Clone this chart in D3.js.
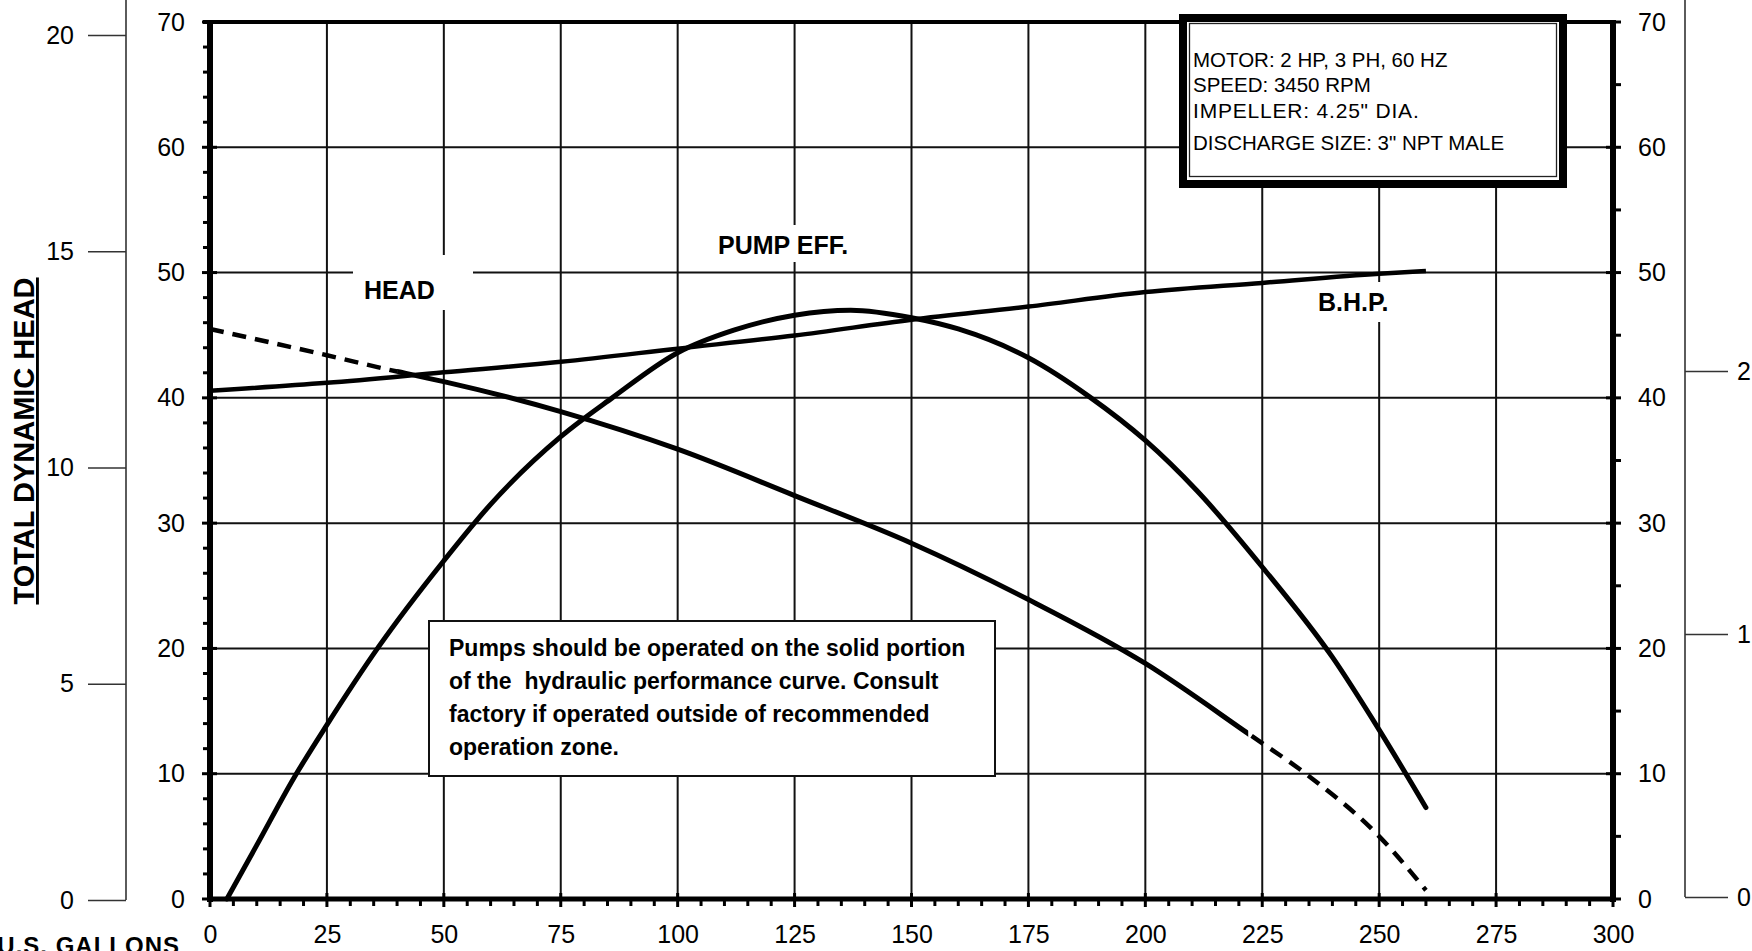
<!DOCTYPE html>
<html lang="en">
<head>
<meta charset="utf-8">
<title>Pump performance curve</title>
<style>
  body { margin: 0; background: #fff; }
  svg { display: block; }
  text { font-family: "Liberation Sans", Arial, sans-serif; fill: #000; }
</style>
</head>
<body>
<svg id="chart" width="1752" height="951"></svg>
<script src="https://d3js.org/d3.v7.min.js"></script>
<script>
// ---- data ----
const flowTicks = d3.range(0, 301, 25)        // U.S. gallons per minute
const feetTicks = d3.range(0, 71, 10)         // total dynamic head, ft (also % eff.)
const meterTicks = [0, 5, 10, 15, 20]         // outer left scale
const hpTicks = [0, 1, 2]                     // outer right scale (B.H.P.)

const headFlow = [0, 25, 40, 50, 75, 100, 125, 150, 175, 200, 222, 235, 250, 260]
const headFeet = [45.5, 43.4, 42.1, 41.3, 38.9, 35.9, 32.2, 28.4, 23.9, 18.8, 13.2, 9.8, 5.0, 0.7]
const headSolid = [40, 222]   // recommended operating range (solid part of head curve)

const effFlow = [3.6, 10, 18, 25, 36, 50, 60, 75, 86, 100, 112, 125, 137, 150, 160, 175, 188, 200, 211, 225, 240, 250, 260]
const effPct = [0, 4.3, 9.7, 13.9, 20.1, 27, 31.5, 36.9, 40, 43.6, 45.4, 46.6, 47.0, 46.4, 45.5, 43.2, 40.1, 36.6, 32.6, 26.5, 19.3, 13.5, 7.3]

const bhpFlow = [0, 25, 50, 75, 100, 125, 150, 175, 200, 225, 250, 260]
const bhpHp = [1.925, 1.955, 1.995, 2.035, 2.085, 2.135, 2.195, 2.245, 2.30, 2.335, 2.37, 2.38]

const infoLines = ["MOTOR: 2 HP, 3 PH, 60 HZ", "SPEED: 3450 RPM", "IMPELLER: 4.25\" DIA.", "DISCHARGE SIZE: 3\" NPT MALE"]
const noteLines = ["Pumps should be operated on the solid portion", "of the  hydraulic performance curve. Consult",
    "factory if operated outside of recommended", "operation zone."]

// ---- scales ----
const x = d3.scaleLinear().domain([0, 300]).range([210, 1613])
const y = d3.scaleLinear().domain([0, 70]).range([899, 22])
const yM = d3.scaleLinear().domain([0, 20]).range([900, 35])
const yHp = d3.scaleLinear().domain([0, 2]).range([897, 371])

const svg = d3.select("#chart")

// grid
const grid = svg.append("g").attr("stroke", "#111").attr("stroke-width", 2)
grid.selectAll(".gx").data(flowTicks.filter(d => d > 0 && d < 300)).join("line")
    .attr("x1", d => x(d)).attr("x2", d => x(d)).attr("y1", y(70)).attr("y2", y(0))
grid.selectAll(".gy").data(feetTicks.filter(d => d > 0 && d < 70)).join("line")
    .attr("x1", x(0)).attr("x2", x(300)).attr("y1", d => y(d)).attr("y2", d => y(d))

// white backgrounds behind curve labels (they break the grid lines)
const bgs = [[353, 255, 120, 55], [710, 225, 160, 37], [1310, 282, 92, 40]]
svg.append("g").selectAll("rect").data(bgs).join("rect")
    .attr("x", d => d[0]).attr("y", d => d[1]).attr("width", d => d[2]).attr("height", d => d[3])
    .attr("fill", "#fff")

// frame: thick axes
const frame = svg.append("g").attr("stroke", "#000")
frame.append("line").attr("x1", x(0) - 7).attr("x2", x(300)).attr("y1", y(70)).attr("y2", y(70)).attr("stroke-width", 4)
frame.append("line").attr("x1", x(0)).attr("x2", x(0)).attr("y1", y(70) - 2).attr("y2", y(0) + 3).attr("stroke-width", 6)
frame.append("line").attr("x1", x(300)).attr("x2", x(300)).attr("y1", y(70) - 2).attr("y2", y(0) + 3).attr("stroke-width", 6)
frame.append("line").attr("x1", x(0)).attr("x2", x(300)).attr("y1", y(0)).attr("y2", y(0)).attr("stroke-width", 5)

// minor / major ticks
const ticks = svg.append("g").attr("stroke", "#000").attr("stroke-width", 3)
ticks.selectAll(".lm").data(d3.range(2, 70, 2).filter(d => d % 10)).join("line")
    .attr("x1", x(0) - 7).attr("x2", x(0)).attr("y1", d => y(d)).attr("y2", d => y(d))
ticks.selectAll(".lM").data(feetTicks).join("line")
    .attr("x1", x(0) - 8).attr("x2", x(0) + 7).attr("y1", d => y(d)).attr("y2", d => y(d))
ticks.selectAll(".rm").data(d3.range(5, 70, 10)).join("line")
    .attr("x1", x(300)).attr("x2", x(300) + 8).attr("y1", d => y(d)).attr("y2", d => y(d))
ticks.selectAll(".rM").data(feetTicks).join("line")
    .attr("x1", x(300) - 7).attr("x2", x(300) + 8).attr("y1", d => y(d)).attr("y2", d => y(d))
ticks.selectAll(".bm").data(d3.range(5, 300, 5).filter(d => d % 25)).join("line")
    .attr("x1", d => x(d)).attr("x2", d => x(d)).attr("y1", y(0)).attr("y2", y(0) + 7)
ticks.selectAll(".bM").data(flowTicks).join("line")
    .attr("x1", d => x(d)).attr("x2", d => x(d)).attr("y1", y(0) - 6).attr("y2", y(0) + 8)

function styleAxis(g, size) {
    g.select(".domain").remove()
    g.selectAll("text").attr("font-size", size).attr("fill", "#000")
        .attr("font-family", '"Liberation Sans", Arial, sans-serif')
    g.selectAll(".tick line").attr("stroke", "#333").attr("stroke-width", 1.6)
}

const fmt = d3.format("d")

// main axis labels
svg.append("g").attr("transform", `translate(${x(0)},0)`)
    .call(d3.axisLeft(y).tickValues(feetTicks).tickFormat(fmt).tickSize(0).tickPadding(25)).call(styleAxis, 25)
svg.append("g").attr("transform", `translate(${x(300)},0)`)
    .call(d3.axisRight(y).tickValues(feetTicks).tickFormat(fmt).tickSize(0).tickPadding(25)).call(styleAxis, 25)
svg.append("g").attr("transform", `translate(0,${y(0)})`)
    .call(d3.axisBottom(x).tickValues(flowTicks).tickFormat(fmt).tickSize(0).tickPadding(26)).call(styleAxis, 25)

// outer left scale
const outerL = svg.append("g").attr("transform", "translate(126,0)")
    .call(d3.axisLeft(yM).tickValues(meterTicks).tickFormat(fmt).tickSize(38).tickPadding(14)).call(styleAxis, 25)
outerL.append("line").attr("y1", 0).attr("y2", yM(0)).attr("stroke", "#333").attr("stroke-width", 1.6)

// outer right scale
const outerR = svg.append("g").attr("transform", "translate(1685,0)")
    .call(d3.axisRight(yHp).tickValues(hpTicks).tickFormat(fmt).tickSize(43).tickPadding(9)).call(styleAxis, 25)
outerR.append("line").attr("y1", 0).attr("y2", yHp(0)).attr("stroke", "#333").attr("stroke-width", 1.6)

// curves
const defs = svg.append("defs")
defs.append("clipPath").attr("id", "solid-zone").append("rect")
    .attr("x", x(headSolid[0])).attr("width", x(headSolid[1]) - x(headSolid[0])).attr("y", 0).attr("height", 951)
const dashClip = defs.append("clipPath").attr("id", "dash-zone")
dashClip.append("rect").attr("x", 0).attr("width", x(headSolid[0])).attr("y", 0).attr("height", 951)
dashClip.append("rect").attr("x", x(headSolid[1])).attr("width", 1752).attr("y", 0).attr("height", 951)

const headLine = d3.line().x(d => x(d[0])).y(d => y(d[1])).curve(d3.curveMonotoneX)
const headPts = d3.zip(headFlow, headFeet)
svg.append("path").attr("d", headLine(headPts)).attr("fill", "none").attr("stroke", "#000")
    .attr("stroke-width", 4.5).attr("stroke-dasharray", "14 9").attr("clip-path", "url(#dash-zone)")
svg.append("path").attr("d", headLine(headPts)).attr("fill", "none").attr("stroke", "#000")
    .attr("stroke-width", 5).attr("clip-path", "url(#solid-zone)")

const effLine = d3.line().x(d => x(d[0])).y(d => y(d[1])).curve(d3.curveMonotoneX)
svg.append("path").attr("d", effLine(d3.zip(effFlow, effPct))).attr("fill", "none")
    .attr("stroke", "#000").attr("stroke-width", 5).attr("stroke-linecap", "round")

const bhpLine = d3.line().x(d => x(d[0])).y(d => yHp(d[1])).curve(d3.curveMonotoneX)
svg.append("path").attr("d", bhpLine(d3.zip(bhpFlow, bhpHp))).attr("fill", "none")
    .attr("stroke", "#000").attr("stroke-width", 4.5)

// curve labels
const curveLabels = svg.append("g").attr("font-weight", "bold").attr("font-size", 25)
curveLabels.append("text").attr("x", 364).attr("y", 299).text("HEAD")
curveLabels.append("text").attr("x", 718).attr("y", 254).text("PUMP EFF.")
curveLabels.append("text").attr("x", 1318).attr("y", 311).text("B.H.P.")

// axis titles
svg.append("text").attr("transform", "translate(34,441) rotate(-90)").attr("text-anchor", "middle")
    .attr("font-weight", "bold").attr("font-size", 29).style("text-decoration", "underline")
    .text("TOTAL DYNAMIC HEAD")
svg.append("text").attr("x", 180).attr("y", 954).attr("text-anchor", "end")
    .attr("font-weight", "bold").attr("font-size", 24).attr("letter-spacing", 1)
    .text("U.S. GALLONS")

// info box
const info = svg.append("g")
info.append("rect").attr("x", 1183).attr("y", 18).attr("width", 380).attr("height", 166)
    .attr("fill", "#fff").attr("stroke", "#000").attr("stroke-width", 8)
info.append("rect").attr("x", 1189.5).attr("y", 23.5).attr("width", 367).attr("height", 153)
    .attr("fill", "none").attr("stroke", "#222").attr("stroke-width", 1.3)
const infoY = [67, 92, 118, 150]
info.selectAll("text").data(infoLines).join("text")
    .attr("x", 1193).attr("y", (d, i) => infoY[i])
    .attr("font-size", (d, i) => i === 2 ? 21 : 20.5)
    .attr("font-family", (d, i) => i === 2 ? "Lato, 'Open Sans', sans-serif" : '"Liberation Sans", Arial, sans-serif')
    .attr("letter-spacing", (d, i) => i === 2 ? 0.8 : 0)
    .text(d => d)

// note box
const note = svg.append("g")
note.append("rect").attr("x", 429).attr("y", 621).attr("width", 566).attr("height", 155)
    .attr("fill", "#fff").attr("stroke", "#111").attr("stroke-width", 2)
note.selectAll("text").data(noteLines).join("text")
    .attr("x", 449).attr("y", (d, i) => 656 + i * 33)
    .attr("font-family", "Lato, 'Open Sans', sans-serif").attr("font-weight", "bold").attr("font-size", 23)
    .style("white-space", "pre")
    .text(d => d)
</script>
</body>
</html>
